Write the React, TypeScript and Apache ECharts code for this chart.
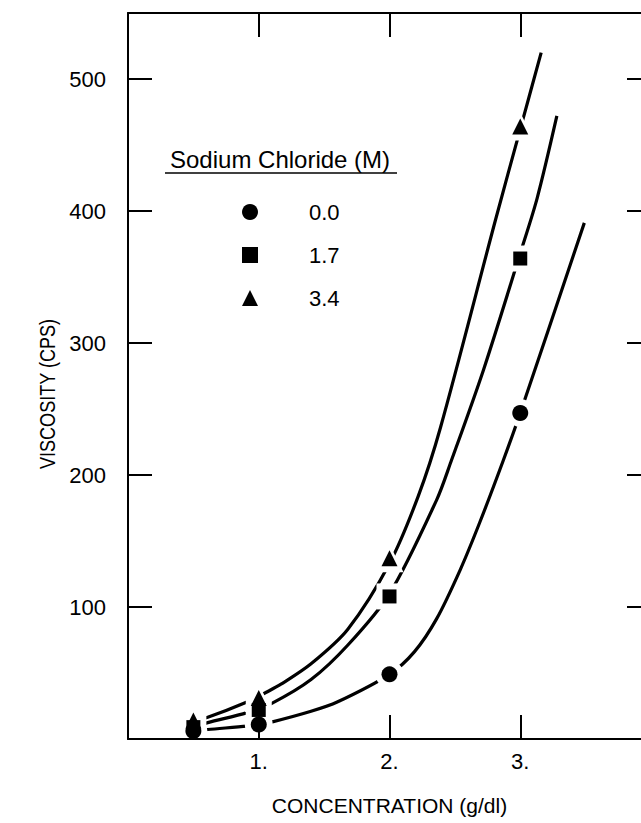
import React, { useEffect, useRef } from "react";
import * as echarts from "echarts";

// Measured points (concentration g/dl, viscosity cps)
const concentrations = [0.5, 1, 2, 3];
const viscNaCl00 = [6, 11, 49, 247];
const viscNaCl17 = [9, 22, 108, 364];
const viscNaCl34 = [14, 31, 137, 464];

// Fitted curves
const curve00X = [0.5, 0.61, 0.91, 1.0, 1.09, 1.4, 1.6, 2.0, 2.19, 2.36, 2.54, 2.69, 2.87, 3.0, 3.49];
const curve00Y = [6, 7.2, 9.8, 11, 12.6, 21, 28, 49, 66, 91, 128, 164, 211, 247, 391];
const curve17X = [0.5, 0.61, 0.91, 1.1, 1.4, 1.68, 2.0, 2.36, 2.47, 2.72, 3.0, 3.13, 3.28];
const curve17Y = [9, 12.4, 20, 27, 45, 71, 110, 181, 210, 280, 368, 410, 472];
const curve34X = [0.5, 0.61, 0.91, 1.07, 1.17, 1.4, 1.68, 2.0, 2.22, 2.39, 2.81, 3.0, 3.16];
const curve34Y = [14, 16.5, 28, 36, 41.5, 57, 83, 133, 184, 236, 393, 462, 520];

const seriesNames = ["0.0", "1.7", "3.4"];
const symbols = ["circle", "rect", "triangle"];
const symbolSizes = [16, 14, 16];
const xTickLabels: Record<number, string> = { 1: "1.", 2: "2.", 3: "3." };
const yTickLabels = [100, 200, 300, 400, 500];
const xAxisTitle = "CONCENTRATION (g/dl)";
const yAxisTitle = "VISCOSITY (CPS)";
const legendTitle = "Sodium Chloride (M)";

const FONT = "'Liberation Sans', Arial, Helvetica, sans-serif";

const zip = (xs: number[], ys: number[]) => xs.map((x, i) => [x, ys[i]]);

export default function App() {
  const ref = useRef<HTMLDivElement>(null);
  useEffect(() => {
    if (!ref.current) return;
    const chart = echarts.init(ref.current, undefined, { renderer: "svg" });
    const pts = [viscNaCl00, viscNaCl17, viscNaCl34].map((v) => zip(concentrations, v));
    const curves = [zip(curve00X, curve00Y), zip(curve17X, curve17Y), zip(curve34X, curve34Y)];

    const axisLine = { show: true, onZero: false, lineStyle: { color: "#000", width: 2 } };
    const tickIn = { show: true, inside: true, length: 24, lineStyle: { color: "#000", width: 2 } };

    const series: any[] = [];
    curves.forEach((c, i) => {
      series.push({
        name: "curve " + seriesNames[i],
        type: "line",
        data: c,
        smooth: 0.3,
        showSymbol: false,
        symbol: "none",
        lineStyle: { color: "#000", width: 3.2 },
        z: 2,
        silent: true,
      });
    });
    pts.forEach((p, i) => {
      series.push({
        name: "halo " + seriesNames[i],
        type: "scatter",
        data: p,
        symbol: symbols[i],
        symbolSize: symbolSizes[i] + 12,
        itemStyle: { color: "#fff", opacity: 1 },
        z: 3,
        silent: true,
      });
    });
    pts.forEach((p, i) => {
      series.push({
        name: seriesNames[i],
        type: "scatter",
        data: p,
        symbol: symbols[i],
        symbolSize: symbolSizes[i],
        itemStyle: { color: "#000", opacity: 1 },
        z: 5,
      });
    });

    chart.setOption({
      animation: false,
      backgroundColor: "#fff",
      grid: {
        left: 128,
        right: -10,
        top: 13,
        bottom: 84,
        containLabel: false,
        outerBoundsMode: "none",
      },
      xAxis: [
        {
          type: "value",
          position: "bottom",
          min: 0,
          max: 4,
          interval: 1,
          z: 4,
          axisLine,
          axisTick: tickIn,
          splitLine: { show: false },
          axisLabel: {
            margin: 11,
            color: "#000",
            fontSize: 22,
            fontFamily: FONT,
            formatter: (v: number) => xTickLabels[v] ?? "",
          },
          name: xAxisTitle,
          nameLocation: "middle",
          nameGap: 56,
          nameTextStyle: { color: "#000", fontSize: 21, fontFamily: FONT },
        },
        {
          type: "value",
          position: "top",
          min: 0,
          max: 4,
          interval: 1,
          z: 4,
          axisLine,
          axisTick: tickIn,
          splitLine: { show: false },
          axisLabel: { show: false },
        },
      ],
      yAxis: [
        {
          type: "value",
          position: "left",
          min: 0,
          max: 550,
          interval: 100,
          z: 4,
          axisLine,
          axisTick: tickIn,
          splitLine: { show: false },
          axisLabel: {
            margin: 22,
            color: "#000",
            fontSize: 22,
            fontFamily: FONT,
            formatter: (v: number) => (yTickLabels.includes(v) ? String(v) : ""),
          },
        },
        {
          type: "value",
          position: "right",
          min: 0,
          max: 550,
          interval: 100,
          z: 4,
          axisLine,
          axisTick: tickIn,
          splitLine: { show: false },
          axisLabel: { show: false },
        },
      ],
      legend: {
        data: seriesNames,
        orient: "vertical",
        left: 242,
        top: 201,
        padding: 0,
        itemWidth: 16,
        itemHeight: 16,
        itemGap: 21,
        selectedMode: false,
        textStyle: {
          color: "#000",
          fontSize: 22,
          fontFamily: FONT,
          padding: [0, 0, 0, 46],
        },
      },
      graphic: [
        {
          type: "text",
          x: 47,
          y: 394,
          rotation: Math.PI / 2,
          scaleX: 0.82,
          style: {
            text: yAxisTitle,
            fill: "#000",
            fontSize: 22,
            fontFamily: FONT,
            align: "center",
            verticalAlign: "middle",
          },
        },
        {
          type: "text",
          x: 170,
          y: 159,
          style: {
            text: legendTitle,
            fill: "#000",
            fontSize: 24,
            fontFamily: FONT,
            verticalAlign: "middle",
            align: "left",
          },
        },
        {
          type: "line",
          shape: { x1: 165, y1: 173, x2: 397, y2: 173 },
          style: { stroke: "#000", lineWidth: 1.5 },
        },
      ],
      series,
    });
    return () => chart.dispose();
  }, []);
  return (
    <div
      ref={ref}
      style={{ position: "fixed", left: 0, top: 0, width: 641, height: 823, background: "#fff" }}
    />
  );
}
